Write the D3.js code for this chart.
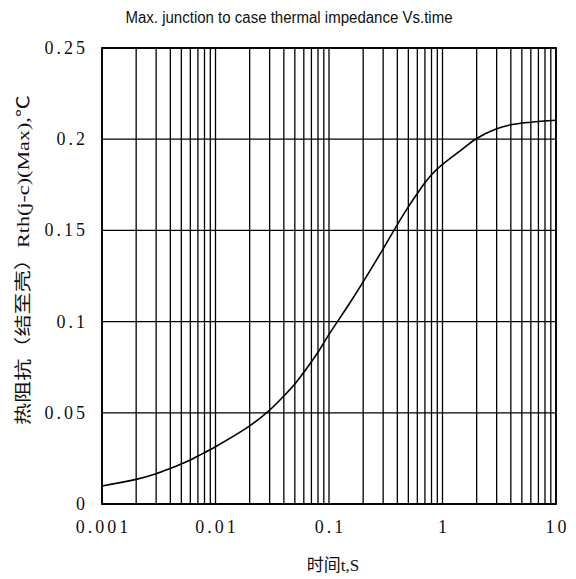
<!DOCTYPE html>
<html>
<head>
  <script src="https://d3js.org/d3.v7.min.js"></script>
  <style>
    body {
  margin: 0;
  background-color: #ffffff;
}

svg {
  display: block;
  background-color: #ffffff;
}

.grid line {
  stroke: #000;
  stroke-width: 1.3px;
}

.curve {
  fill: none;
  stroke: #000;
  stroke-width: 1.6px;
}
  </style>
</head>
<body>

<script>
// Curve: time (s) and Zth (°C/W).
const times = [0.001, 0.002, 0.003, 0.004, 0.005, 0.006, 0.007, 0.01, 0.02, 0.03, 0.04, 0.05, 0.06, 0.07, 0.08,
  0.1, 0.15, 0.2, 0.3, 0.4, 0.5, 0.6, 0.7, 0.8, 0.9, 1, 1.5, 2, 3, 4, 6, 10];
const zth = [0.0099, 0.0135, 0.0166, 0.0195, 0.0219, 0.0241, 0.0263, 0.0314, 0.0428, 0.0515, 0.0592, 0.0658, 0.0722, 0.078, 0.0832,
  0.093, 0.1095, 0.1218, 0.1399, 0.1532, 0.1629, 0.1702, 0.1761, 0.1805, 0.1837, 0.1862, 0.1946, 0.2004, 0.2057, 0.2079, 0.2093, 0.2104];

// Tick labels.
const xTicks = [0.001, 0.01, 0.1, 1, 10];
const xTickLabels = ["0.001", "0.01", "0.1", "1", "10"];
const yTicks = [0, 0.05, 0.1, 0.15, 0.2, 0.25];
const yTickLabels = ["0", "0.05", "0.1", "0.15", "0.2", "0.25"];

const title = "Max. junction to case thermal impedance  Vs.time";
const xTitle = "时间t,S";
const yTitle = "热阻抗（结至壳）Rth(j-c)(Max),℃";

const serif = "'Liberation Serif', 'Noto Sans CJK SC', serif";

const width = 576;
const height = 579;
const margin = { top: 48, right: 20, bottom: 75, left: 102 };

const x = d3.scaleLog()
  .domain([0.001, 10])
  .range([margin.left, width - margin.right]);

const y = d3.scaleLinear()
  .domain([0, 0.25])
  .range([height - margin.bottom, margin.top]);

const svg = d3.select("body")
  .append("svg")
  .attr("width", width)
  .attr("height", height);

// Vertical grid: every 1..9 of each decade.
const minorTicks = [];
for (let e = -3; e < 1; e++) {
  for (let m = 1; m <= 9; m++) minorTicks.push(m * Math.pow(10, e));
}
minorTicks.push(10);

const grid = svg.append("g").attr("class", "grid");

grid.selectAll(".vline")
  .data(minorTicks)
  .enter()
  .append("line")
  .attr("x1", d => x(d))
  .attr("x2", d => x(d))
  .attr("y1", y(0.25))
  .attr("y2", y(0));

grid.selectAll(".hline")
  .data(yTicks)
  .enter()
  .append("line")
  .attr("x1", x(0.001))
  .attr("x2", x(10))
  .attr("y1", d => y(d))
  .attr("y2", d => y(d));

// Frame a bit heavier.
svg.append("rect")
  .attr("x", x(0.001))
  .attr("y", y(0.25))
  .attr("width", x(10) - x(0.001))
  .attr("height", y(0) - y(0.25))
  .attr("fill", "none")
  .attr("stroke", "#000")
  .attr("stroke-width", 1.8);

// Curve.
const line = d3.line()
  .x((d, i) => x(times[i]))
  .y(d => y(d))
  .curve(d3.curveCatmullRom.alpha(0.5));

svg.append("path")
  .datum(zth)
  .attr("class", "curve")
  .attr("d", line);

// Y tick labels (letter-spacing leaves a trailing gap, so nudge right).
svg.selectAll(".ylab")
  .data(yTicks)
  .enter()
  .append("text")
  .attr("x", x(0.001) - 14)
  .attr("y", d => y(d) + 6)
  .attr("text-anchor", "end")
  .attr("font-family", serif)
  .attr("font-size", "18px")
  .attr("letter-spacing", "3px")
  .attr("fill", "#111")
  .text((d, i) => yTickLabels[i]);

// X tick labels.
svg.selectAll(".xlab")
  .data(xTicks)
  .enter()
  .append("text")
  .attr("x", d => x(d) + 1.5)
  .attr("y", y(0) + 29)
  .attr("text-anchor", "middle")
  .attr("font-family", serif)
  .attr("font-size", "18px")
  .attr("letter-spacing", "3px")
  .attr("fill", "#111")
  .text((d, i) => xTickLabels[i]);

// Title.
svg.append("text")
  .attr("x", 289)
  .attr("y", 23)
  .attr("text-anchor", "middle")
  .attr("font-family", "'Liberation Sans', Arial, sans-serif")
  .attr("font-size", "16px")
  .attr("textLength", 327)
  .attr("lengthAdjust", "spacingAndGlyphs")
  .attr("fill", "#111")
  .text(title);

// Axis titles.
svg.append("text")
  .attr("x", 333)
  .attr("y", 571)
  .attr("text-anchor", "middle")
  .attr("font-family", serif)
  .attr("font-size", "17px")
  .attr("fill", "#111")
  .text(xTitle);

svg.append("text")
  .attr("transform", "translate(29,260) rotate(-90)")
  .attr("text-anchor", "middle")
  .attr("font-family", serif)
  .attr("font-size", "17px")
  .attr("textLength", 330)
  .attr("lengthAdjust", "spacingAndGlyphs")
  .attr("fill", "#111")
  .text(yTitle);
</script>
</body>
</html>
